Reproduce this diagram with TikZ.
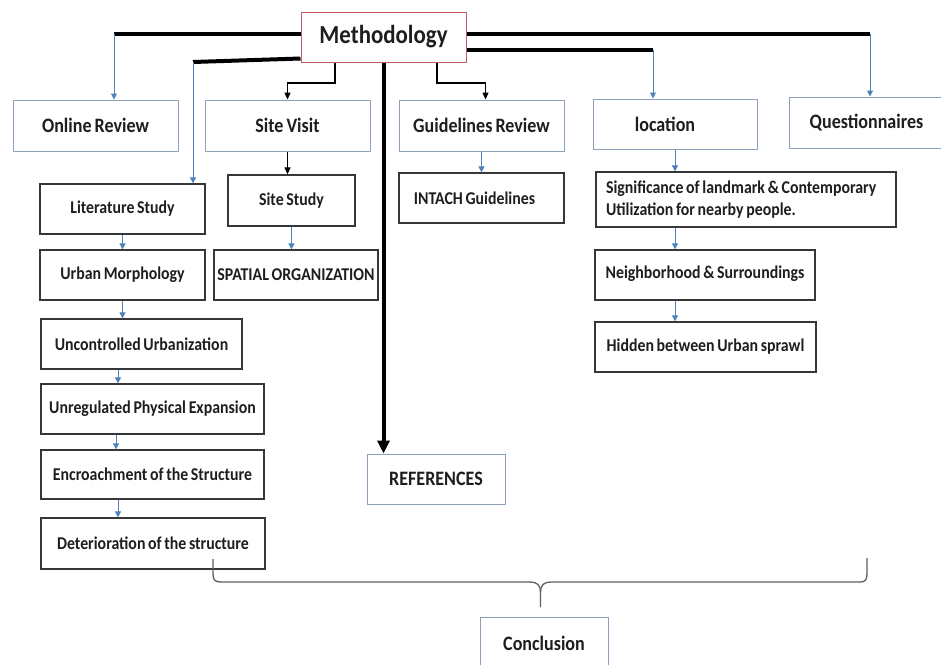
\documentclass[tikz,border=0pt]{standalone}
\usepackage{fontspec}
\setmainfont{Carlito}[FakeStretch=0.88, WordSpace=0.75]
\usetikzlibrary{arrows.meta,calc}
\definecolor{boxblue}{RGB}{140,160,185}
\definecolor{methred}{RGB}{190,95,100}
\definecolor{darkbox}{RGB}{55,55,55}
\definecolor{arrowblue}{RGB}{79,129,189}
\definecolor{bracegray}{RGB}{95,95,95}
\definecolor{textdark}{RGB}{30,30,30}
\begin{document}
\begin{tikzpicture}[x=1pt,y=-1pt,
  box/.style={draw, inner sep=0pt, text=textdark},
  topbox/.style={box, draw=boxblue, line width=1pt, font=\fontsize{20.5}{24}\selectfont\bfseries},
  subbox/.style={box, draw=darkbox, line width=1.3pt, font=\fontsize{18}{21.6}\selectfont\bfseries},
  methbox/.style={box, draw=methred, line width=1pt, font=\fontsize{26}{30}\selectfont\bfseries},
  heavy/.style={line width=4pt, black},
  barrow/.style={draw=arrowblue, line width=1pt, -{Triangle[width=6pt,length=6pt]}},
  karrow/.style={black, line width=1.2pt, -{Triangle[width=6pt,length=7pt]}},
  bracec/.style={draw=bracegray, line width=1.3pt}]
\fill[white] (0,0) rectangle (941,664);
\useasboundingbox (0,0) rectangle (941,664);

% boxes
\node[methbox, minimum width=165pt, minimum height=50pt] (meth) at (383.5,37) {Methodology};

\node[topbox, minimum width=165pt, minimum height=51pt] (online) at (95.5,125.5) {Online Review};
\node[topbox, minimum width=165pt, minimum height=51pt] (sitevisit) at (287.5,125.5) {Site Visit};
\node[topbox, minimum width=165pt, minimum height=51pt] (guide) at (481.5,125.5) {Guidelines Review};
\node[topbox, minimum width=164pt, minimum height=50pt] (loc) at (675,124) {location\hspace*{20pt}};
\node[topbox, minimum width=155pt, minimum height=51pt] (quest) at (866.5,122.5) {Questionnaires};

\node[subbox, minimum width=165pt, minimum height=50pt] (lit) at (122.5,209) {Literature Study};
\node[subbox, minimum width=165pt, minimum height=50pt] (urban) at (122.5,275) {Urban Morphology};
\node[subbox, minimum width=201pt, minimum height=50pt] (uncon) at (141.5,344) {Uncontrolled Urbanization};
\node[subbox, minimum width=223pt, minimum height=50pt] (unreg) at (152.5,409) {Unregulated Physical Expansion};
\node[subbox, minimum width=223pt, minimum height=49pt] (encr) at (152.5,474.5) {Encroachment of the Structure};
\node[subbox, minimum width=224pt, minimum height=51pt] (deter) at (153,543.5) {Deterioration of the structure};

\node[subbox, minimum width=127pt, minimum height=51pt] (sitestudy) at (291.5,200.5) {Site Study};
\node[subbox, minimum width=164pt, minimum height=50pt] (spatial) at (296,275) {SPATIAL ORGANIZATION};

\node[subbox, minimum width=165pt, minimum height=50pt] (intach) at (481.5,198) {INTACH Guidelines\hspace*{14pt}};

\node[subbox, minimum width=300pt, minimum height=55pt, align=left] (signif) at (746,199.5) {\makebox[280pt][l]{Significance of landmark \& Contemporary}\\\makebox[280pt][l]{Utilization for nearby people.}};
\node[subbox, minimum width=220pt, minimum height=50pt] (neigh) at (705,275) {\raisebox{6pt}{Neighborhood \& Surroundings}};
\node[subbox, minimum width=221pt, minimum height=50pt] (hidden) at (705.5,347) {Hidden between Urban sprawl};

\node[topbox, minimum width=138pt, minimum height=50pt] (refs) at (436,479) {REFERENCES};
\node[topbox, minimum width=128pt, minimum height=53pt] (concl) at (544,643.5) {Conclusion};

% heavy connectors from Methodology
\coordinate (jOn) at (114,34);
\coordinate (jLit) at (193,62);
\coordinate (jQ) at (870,34);
\coordinate (jLoc) at (653,50);
\draw[heavy] (meth.west |- jOn) -- (jOn);
\draw[barrow] (jOn) -- (jOn |- online.north);
\draw[heavy] ($(meth.south west)+(0,-4)$) -- (jLit);
\draw[barrow] (jLit) -- (jLit |- lit.north);
\draw[heavy] (meth.east |- jQ) -- (jQ);
\draw[barrow] (jQ) -- (jQ |- quest.north);
\draw[heavy] (meth.east |- jLoc) -- (jLoc);
\draw[barrow] (jLoc) -- (jLoc |- loc.north);
\draw[heavy, -{Triangle[width=12pt,length=13pt]}] (meth.south) -- (meth.south |- refs.north);

% thin black elbows
\coordinate (eSV) at (335,83);
\coordinate (eG) at (437,83);
\draw[karrow] (meth.south -| eSV) |- (sitevisit.north |- eSV) -- (sitevisit.north);
\draw[karrow] (meth.south -| eG) |- ([xshift=4pt]guide.north |- eG) -- ([xshift=4pt]guide.north);
\draw[karrow] (sitevisit.south) -- (sitevisit.south |- sitestudy.north);

% blue chains
\draw[barrow] (sitestudy.south) -- (sitestudy.south |- spatial.north);
\draw[barrow] (guide.south) -- (guide.south |- intach.north);
\draw[barrow] (lit.south) -- (lit.south |- urban.north);
\draw[barrow] (urban.south) -- (urban.south |- uncon.north);
\draw[barrow] (uncon.south -| 118,0) -- (unreg.north -| 118,0);
\draw[barrow] (unreg.south -| 116,0) -- (encr.north -| 116,0);
\draw[barrow] (encr.south -| 118,0) -- (deter.north -| 118,0);
\draw[barrow] (loc.south) -- (loc.south |- signif.north);
\draw[barrow] (signif.south -| loc.south) -- (neigh.north -| loc.south);
\draw[barrow] (neigh.south -| loc.south) -- (hidden.north -| loc.south);

% brace
\draw[bracec] (213,559) -- (213,574) .. controls (213,580) and (215,582) .. (221,582) -- (530,582)
  .. controls (537,582) and (540.5,585) .. (540.5,592) -- (540.5,607);
\draw[bracec] (540.5,592) .. controls (540.5,585) and (544,582) .. (551,582) -- (860,582)
  .. controls (865,582) and (867,580) .. (867,574) -- (867,558);
\end{tikzpicture}
\end{document}
